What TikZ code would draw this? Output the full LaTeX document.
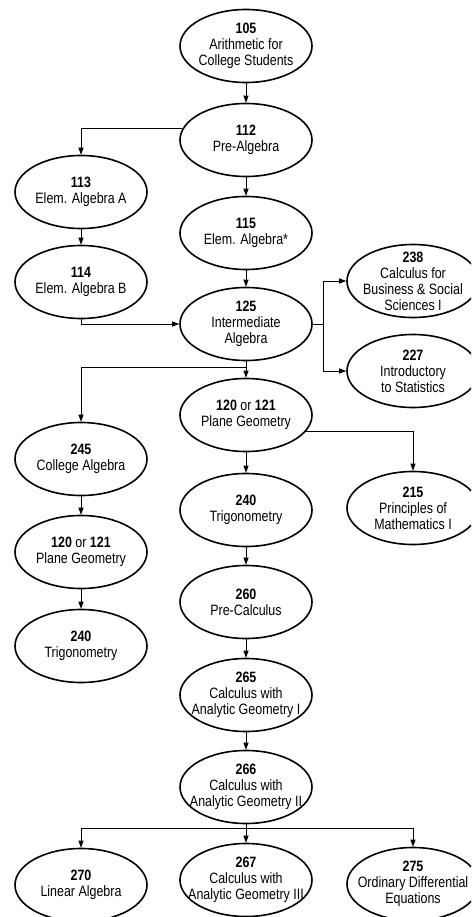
\documentclass[tikz,border=0pt]{standalone}
\usepackage{fontspec}
\setmainfont{Liberation Sans}[FakeStretch=0.83]
\usetikzlibrary{shapes.geometric,arrows.meta}

\tikzset{
  course/.style={ellipse, draw, line width=1.6pt, minimum width=132pt, minimum height=73pt,
    inner xsep=-30pt, inner ysep=-20pt, align=center, font=\fontsize{15}{16}\selectfont},
  prereq/.style={line width=0.9pt, -{Triangle[length=7pt,width=5pt]}}
}

\begin{document}
\begin{tikzpicture}[x=1pt, y=-1pt]
        % Frame
        \useasboundingbox (0,0) rectangle (471,917);
        \clip (0,0) rectangle (471,917);

        % Main column
        \node[course] (n105) at (246,46) {\textbf{105}\\Arithmetic for\\College Students};
        \node[course] (n112) at (246,140) {\textbf{112}\\Pre-Algebra};
        \node[course] (n115) at (246,233) {\textbf{115}\\Elem. Algebra*};
        \node[course] (n125) at (246,324) {\textbf{125}\\Intermediate\\Algebra};
        \node[course] (n120a) at (246,415) {\textbf{120} or \textbf{121}\\Plane Geometry};
        \node[course] (n240a) at (246,510) {\textbf{240}\\Trigonometry};
        \node[course] (n260) at (246,602) {\textbf{260}\\Pre-Calculus};
        \node[course] (n265) at (246,695) {\textbf{265}\\Calculus with\\Analytic Geometry I};
        \node[course] (n266) at (246,787) {\textbf{266}\\Calculus with\\Analytic Geometry II};
        \node[course] (n267) at (246,880) {\textbf{267}\\Calculus with\\Analytic Geometry III};

        % Left column
        \node[course] (n113) at (81,192) {\textbf{113}\\Elem. Algebra A};
        \node[course] (n114) at (81,282) {\textbf{114}\\Elem. Algebra B};
        \node[course] (n245) at (81,459) {\textbf{245}\\College Algebra};
        \node[course] (n120b) at (81,552) {\textbf{120} or \textbf{121}\\Plane Geometry};
        \node[course] (n240b) at (81,646) {\textbf{240}\\Trigonometry};
        \node[course] (n270) at (81,885) {\textbf{270}\\Linear Algebra};

        % Right column
        \node[course] (n238) at (413,281) {\textbf{238}\\Calculus for\\Business \& Social\\Sciences I};
        \node[course] (n227) at (413,371) {\textbf{227}\\Introductory\\to Statistics};
        \node[course] (n215) at (413,508) {\textbf{215}\\Principles of\\Mathematics I};
        \node[course] (n275) at (413,884) {\textbf{275}\\Ordinary Differential\\Equations};

        % Prerequisites
        \draw[prereq] (n105) -- (n112);
        \draw[prereq] (n112.170) -| (n113.north);
        \draw[prereq] (n112) -- (n115);
        \draw[prereq] (n113) -- (n114);
        \draw[prereq] (n114.south) |- (n125.west);
        \draw[prereq] (n115) -- (n125);
        \draw[prereq] (n125.east) -- ++(11,0) |- (n238.west);
        \draw[prereq] (n125.east) -- ++(11,0) |- (n227.west);
        \draw[prereq] (n125) -- (n120a);
        \draw[prereq] (n125.south) -- ++(0,6) -| (n245.north);
        \draw[prereq] (n120a.-15) -| (n215.north);
        \draw[prereq] (n120a) -- (n240a);
        \draw[prereq] (n240a) -- (n260);
        \draw[prereq] (n260) -- (n265);
        \draw[prereq] (n265) -- (n266);
        \draw[prereq] (n245) -- (n120b);
        \draw[prereq] (n120b) -- (n240b);
        \draw[prereq] (n266) -- (n267);
        \draw[prereq] (n266.south) -- ++(0,4) -| (n270.north);
        \draw[prereq] (n266.south) -- ++(0,4) -| (n275.north);
    \end{tikzpicture}
\end{document}
